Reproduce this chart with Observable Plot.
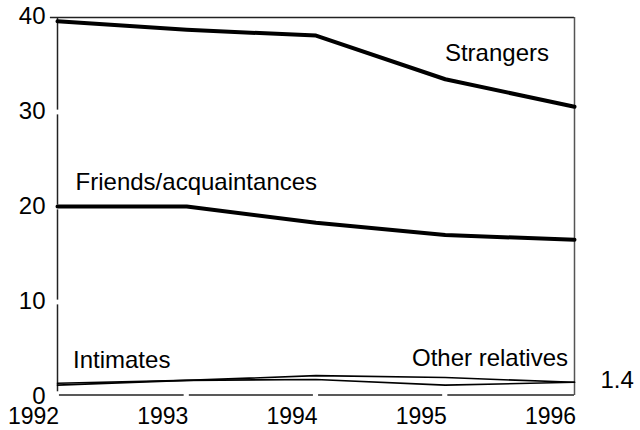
<!DOCTYPE html>
<html>
<head>
<meta charset="utf-8">
<script src="https://cdn.jsdelivr.net/npm/d3@7"></script>
<script src="https://cdn.jsdelivr.net/npm/@observablehq/plot@0.6"></script>
<style>
  html, body { margin: 0; padding: 0; background: #fff; }
  #chart svg { display: block; }
</style>
</head>
<body>
<div id="chart"></div>
<script>
const years = [1992, 1993, 1994, 1995, 1996];
const strangers = [39.6, 38.7, 38.1, 33.5, 30.6];
const friends = [20.1, 20.1, 18.4, 17.1, 16.6];
const intimates = [1.5, 1.8, 2.3, 2.1, 1.6];
const otherRelatives = [1.3, 1.8, 1.9, 1.3, 1.6];
const yTicks = [0, 10, 20, 30, 40];
const endLabel = "1.4";

const toRows = (name, vals) => years.map((yr, i) => ({series: name, year: yr, value: vals[i]}));
const thick = [...toRows("Strangers", strangers), ...toRows("Friends/acquaintances", friends)];
const thin = [...toRows("Intimates", intimates), ...toRows("Other relatives", otherRelatives)];

const leftSegs = yTicks.slice(0, -1).map((t, i) => ({a: t, b: yTicks[i + 1]}));
const bottomSegs = years.slice(0, -1).map((t, i) => ({a: t, b: years[i + 1]}));

const font = "Liberation Sans, Arial, sans-serif";

const chart = Plot.plot({
  width: 640,
  height: 430,
  marginLeft: 57,
  marginRight: 66,
  marginTop: 17,
  marginBottom: 33,
  style: {fontFamily: font, fontSize: "24px", color: "#000", background: "#fff"},
  x: {domain: [1992, 1996], ticks: years, tickFormat: d => String(d), label: null},
  y: {domain: [0, 40], ticks: yTicks, label: null},
  marks: [
    Plot.axisX({ticks: years, tickFormat: d => String(d), tickSize: 0, tickPadding: 10, dx: -24, fontSize: 23, label: null}),
    Plot.axisY({ticks: yTicks, tickSize: 0, tickPadding: 12, fontSize: 24, label: null, dy: -1}),
    // frame pieces
    Plot.ruleX(leftSegs, {x: () => 1992, y1: d => d.a + (d.a === 0 ? 0.6 : 0.25), y2: d => d.b - (d.b === 40 ? 0 : 0.25), stroke: "#222", strokeWidth: 1.5}),
    Plot.ruleY(bottomSegs, {y: () => 0, x1: d => d.a + (d.a === 1992 ? 0.015 : 0.02), x2: d => d.b - (d.b === 1996 ? 0 : 0.02), dy: -2.5, stroke: "#222", strokeWidth: 1.5}),
    Plot.ruleY([40], {x1: 1991.945, x2: 1996, stroke: "#222", strokeWidth: 1.5}),
    Plot.ruleX([1996], {y1: 0.2, y2: 40, stroke: "#555", strokeWidth: 1.5}),
    // data lines
    Plot.line(thin, {x: "year", y: "value", z: "series", stroke: "#000", strokeWidth: 1.6}),
    Plot.line(thick, {x: "year", y: "value", z: "series", stroke: "#000", strokeWidth: 4}),
    // labels
    Plot.text(["Strangers"], {x: 1995.4, y: 36.2, text: d => d, fontSize: 24, fill: "#000", textAnchor: "middle"}),
    Plot.text(["Friends/acquaintances"], {x: 1992.14, y: 22.6, text: d => d, fontSize: 24, fill: "#000", textAnchor: "start"}),
    Plot.text(["Intimates"], {x: 1992.12, y: 3.9, text: d => d, fontSize: 24, fill: "#000", textAnchor: "start"}),
    Plot.text(["Other relatives"], {x: 1995.95, y: 4.1, text: d => d, fontSize: 24, fill: "#000", textAnchor: "end"}),
    Plot.text([endLabel], {x: 1996, y: otherRelatives[otherRelatives.length - 1], text: d => d, dx: 26, dy: -2, fontSize: 24, fill: "#000", textAnchor: "start"})
  ]
});
document.getElementById("chart").appendChild(chart);
</script>
</body>
</html>
